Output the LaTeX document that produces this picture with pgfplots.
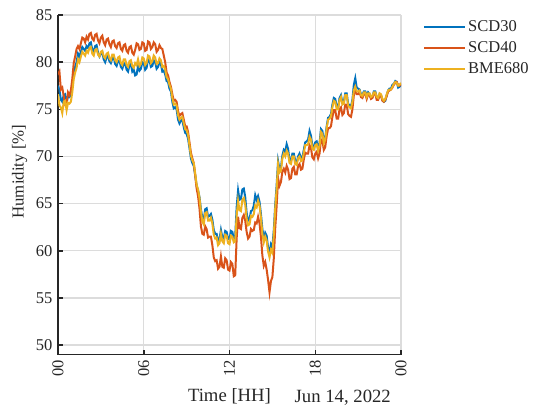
\documentclass[border=0pt]{standalone}
\usepackage{fontspec}
\setmainfont{Liberation Serif}
\usepackage{pgfplots}
\pgfplotsset{compat=1.18}
\usepackage{pgfplotstable}
\definecolor{mlblue}{RGB}{0,114,189}
\definecolor{mlred}{RGB}{217,83,25}
\definecolor{mlyellow}{RGB}{237,177,32}
\definecolor{gridc}{RGB}{220,220,220}
\definecolor{axc}{RGB}{38,38,38}

\pgfplotstableread{
t scd30 scd40 bme
0.0 77.5 78.7 76.6
0.1 77.1 79.0 75.4
0.2 76.0 77.1 75.2
0.3 75.8 77.3 74.6
0.4 76.5 76.4 75.8
0.5 76.6 75.5 75.9
0.6 75.7 75.6 74.9
0.7 76.4 76.8 75.7
0.8 76.3 76.5 75.6
0.9 76.5 77.0 75.8
1.0 77.5 78.2 76.8
1.1 78.8 79.9 78.2
1.2 79.5 80.6 78.9
1.3 80.0 81.4 79.4
1.4 80.9 81.7 80.3
1.5 80.6 81.4 80.0
1.6 81.1 82.0 80.6
1.7 81.6 82.6 81.1
1.8 81.4 82.5 80.9
1.9 81.2 82.1 80.7
2.0 81.7 82.7 81.2
2.1 81.5 82.4 81.0
2.2 82.0 83.0 81.5
2.3 82.1 83.1 81.6
2.4 81.3 82.5 80.9
2.5 81.1 82.3 80.7
2.6 81.7 82.9 81.3
2.7 81.8 83.0 81.4
2.8 81.0 82.3 80.8
2.9 80.6 82.0 80.6
3.0 80.9 82.6 81.1
3.1 81.0 82.8 81.2
3.2 80.3 82.1 80.6
3.3 80.0 81.8 80.4
3.4 80.5 82.4 80.9
3.5 80.7 82.5 81.0
3.6 80.1 81.9 80.4
3.7 79.9 81.6 80.2
3.8 80.4 82.2 80.8
3.9 80.5 82.3 80.8
4.0 79.8 81.7 80.2
4.1 79.6 81.5 80.0
4.2 80.1 82.0 80.5
4.3 80.2 82.1 80.6
4.4 79.5 81.4 79.9
4.5 79.3 81.2 79.7
4.6 79.8 81.8 80.3
4.7 79.9 81.9 80.3
4.8 79.2 81.2 79.7
4.9 79.0 81.0 79.5
5.0 79.7 81.6 80.1
5.1 79.8 81.7 80.2
5.2 79.0 81.0 79.6
5.3 79.2 80.8 79.4
5.4 78.6 81.3 79.9
5.5 78.7 82.0 79.7
5.6 79.6 81.9 80.3
5.7 79.1 81.3 79.6
5.8 79.3 81.4 79.8
5.9 80.0 82.1 80.5
6.0 79.9 82.0 80.4
6.1 79.2 81.2 79.7
6.2 79.4 81.3 79.9
6.3 80.3 82.2 80.7
6.4 80.2 82.1 80.6
6.5 79.5 81.4 79.9
6.6 79.6 81.6 80.1
6.7 80.2 82.1 80.7
6.8 80.0 81.9 80.5
6.9 79.3 81.1 79.8
7.0 79.5 81.3 79.9
7.1 80.0 81.8 80.4
7.2 79.8 81.5 80.2
7.3 79.0 81.4 79.5
7.4 79.1 80.7 79.6
7.5 78.7 80.0 79.2
7.6 78.0 78.9 78.4
7.7 77.9 78.6 78.2
7.8 77.2 77.9 77.6
7.9 76.9 77.4 77.2
8.0 75.8 76.6 76.2
8.1 75.1 75.9 75.5
8.2 75.2 76.0 75.6
8.3 75.0 75.8 75.4
8.4 73.9 74.8 74.4
8.5 73.5 74.3 73.9
8.6 73.8 74.5 74.1
8.7 73.9 74.6 74.2
8.8 73.1 73.9 73.5
8.9 72.5 73.2 72.9
9.0 72.4 73.2 72.8
9.1 71.9 72.6 72.3
9.2 70.9 71.5 71.2
9.3 69.8 70.4 70.1
9.4 69.3 69.8 69.6
9.5 69.0 69.3 69.3
9.6 68.0 68.0 68.2
9.7 66.9 66.6 67.0
9.8 66.4 65.8 66.5
9.9 65.7 64.5 65.6
10.0 64.4 62.6 64.2
10.1 63.5 61.8 63.1
10.2 63.3 61.7 62.8
10.3 64.4 62.6 64.0
10.4 64.5 62.3 64.1
10.5 63.6 61.4 63.2
10.6 63.7 61.5 63.2
10.7 63.9 61.5 63.5
10.8 63.3 60.6 62.9
10.9 62.2 59.3 61.7
11.0 61.8 58.9 61.3
11.1 61.8 59.0 61.4
11.2 61.0 58.1 60.6
11.3 61.2 58.3 60.8
11.4 62.2 59.4 61.8
11.5 61.4 58.3 61.0
11.6 61.3 58.2 60.8
11.7 62.1 59.2 61.7
11.8 62.0 59.0 61.6
11.9 61.3 58.0 60.8
12.0 61.2 57.9 60.7
12.1 62.1 58.8 61.6
12.2 62.0 58.6 61.5
12.3 61.3 57.3 60.9
12.4 61.5 57.4 61.0
12.5 64.6 61.3 63.7
12.6 66.4 63.6 65.3
12.7 65.4 62.4 64.3
12.8 65.5 62.3 64.2
12.9 66.5 63.5 65.4
13.0 66.6 63.8 65.6
13.1 65.7 63.2 64.9
13.2 64.0 62.0 63.4
13.3 63.2 61.3 62.7
13.4 63.3 61.5 62.8
13.5 64.2 62.3 63.7
13.6 64.3 62.1 63.6
13.7 64.8 62.2 63.9
13.8 65.9 63.0 64.8
13.9 65.4 62.9 64.6
14.0 65.8 63.6 65.3
14.1 65.2 62.9 64.8
14.2 63.9 61.5 63.5
14.3 62.3 59.5 61.8
14.4 61.3 58.4 60.9
14.5 61.9 58.8 61.5
14.6 61.6 58.0 61.1
14.7 60.3 56.9 59.9
14.8 59.8 55.6 59.3
14.9 60.7 56.8 60.1
15.0 60.4 57.2 59.8
15.1 62.2 59.2 61.7
15.2 64.9 62.4 64.5
15.3 67.0 64.8 66.6
15.4 69.5 67.7 69.2
15.5 68.6 66.9 68.3
15.6 68.8 67.3 68.5
15.7 70.1 68.4 69.8
15.8 70.7 68.7 70.3
15.9 70.5 68.3 70.0
16.0 71.3 69.0 70.6
16.1 70.8 68.6 70.3
16.2 69.6 67.6 69.3
16.3 69.5 67.7 69.2
16.4 70.3 68.7 70.0
16.5 70.3 68.9 70.0
16.6 69.5 68.1 69.2
16.7 69.3 68.1 69.1
16.8 70.0 69.0 69.8
16.9 70.3 69.2 70.0
17.0 69.8 68.6 69.5
17.1 69.9 68.7 69.6
17.2 70.7 69.7 70.4
17.3 71.5 70.4 71.2
17.4 71.6 70.3 71.2
17.5 71.8 70.3 71.3
17.6 72.7 71.2 72.1
17.7 72.2 70.9 71.8
17.8 71.1 69.9 70.8
17.9 70.9 69.7 70.7
18.0 71.5 70.3 71.2
18.1 71.6 70.5 71.3
18.2 70.8 69.8 70.6
18.3 71.4 70.3 71.1
18.4 72.9 71.8 72.6
18.5 72.7 71.7 72.4
18.6 71.6 70.7 71.4
18.7 72.0 71.0 71.8
18.8 73.2 72.2 73.0
18.9 74.1 73.0 73.9
19.0 74.2 73.0 74.0
19.1 74.5 73.2 74.3
19.2 75.5 74.2 75.2
19.3 76.2 74.9 75.9
19.4 76.1 74.9 75.8
19.5 75.3 74.0 75.0
19.6 75.2 74.0 75.0
19.7 76.2 75.0 76.0
19.8 76.5 75.2 76.3
19.9 75.7 74.4 75.5
20.0 75.8 74.6 75.6
20.1 76.7 75.5 76.5
20.2 76.7 75.5 76.5
20.3 75.6 74.5 75.4
20.4 75.4 74.3 75.2
20.5 75.3 74.2 75.1
20.6 76.0 75.0 75.8
20.7 77.6 76.5 77.0
20.8 78.3 77.2 77.4
20.9 77.3 76.6 76.9
21.0 77.2 76.6 76.9
21.1 77.1 76.8 77.0
21.2 76.6 76.3 76.5
21.3 76.5 76.2 76.4
21.4 76.9 76.6 76.8
21.5 76.9 76.7 76.8
21.6 76.4 76.1 76.3
21.7 76.8 76.6 76.7
21.8 76.6 76.5 76.7
21.9 76.2 76.1 76.3
22.0 76.3 76.2 76.4
22.1 76.9 76.7 76.8
22.2 76.9 76.6 76.8
22.3 76.3 76.0 76.3
22.4 76.1 76.0 76.2
22.5 76.6 76.5 76.7
22.6 76.5 76.4 76.6
22.7 76.0 75.9 76.1
22.8 75.8 75.8 75.9
22.9 75.9 76.0 76.1
23.0 76.5 76.4 76.6
23.1 77.0 76.9 77.0
23.2 77.2 77.0 77.1
23.3 77.2 77.1 77.1
23.4 77.6 77.3 77.4
23.5 77.7 77.6 77.7
23.6 78.0 77.8 77.9
23.7 77.9 77.9 77.8
23.8 77.3 77.6 77.5
23.9 77.4 77.5 77.6
24.0 77.6 77.7 77.8
}\data

\begin{document}
\fontsize{16.5bp}{19bp}\selectfont
\begin{tikzpicture}
\path[use as bounding box] (-58bp,-52.5bp) rectangle (477bp,354.5bp);
\begin{axis}[
  at={(0,0)}, anchor=south west,
  scale only axis, width=343bp, height=339.5bp,
  xmin=0, xmax=24, ymin=49, ymax=85,
  xtick={0,6,12,18,24}, xticklabels={00,06,12,18,00},
  ytick={50,55,60,65,70,75,80,85},
  /pgf/number format/assume math mode=true,
  axis x line*=bottom, axis y line*=left,
  tick align=inside, major tick length=5bp,
  grid=major, grid style={gridc, line width=1.3bp},
  axis line style={axc, line width=1.5bp},
  every tick/.style={axc, line width=1.5bp},
  tick label style={font=\fontsize{16.5bp}{19bp}\selectfont, text=axc},
  x tick label style={rotate=90, anchor=east},
  xlabel={Time [HH]},
  xlabel style={at={(axis description cs:0.5,-0.1399)}, anchor=base, font=\fontsize{18.7bp}{21bp}\selectfont, text=axc},
  ylabel={Humidity [\%]},
  ylabel style={at={(axis description cs:-0.1117,0.5385)}, anchor=center, rotate=0, font=\fontsize{16.8bp}{19bp}\selectfont, text=axc},
  legend cell align=left,
  legend image code/.code={\draw[#1] (0bp,0bp) -- (41bp,0bp);},
  legend style={draw=none, fill=none, at={(1,1)}, anchor=north west, xshift=22bp, yshift=-1.5bp,
    inner sep=0pt, row sep=0pt, column sep=0pt,
    nodes={inner xsep=2bp, inner ysep=2.8bp, text height=11.5bp, text depth=4bp, font=\fontsize{16.5bp}{19bp}\selectfont, text=axc}},
]
\addplot[color=mlblue, line width=2bp] table[x=t, y=scd30] {\data};
\addlegendentry{SCD30}
\addplot[color=mlred, line width=2bp] table[x=t, y=scd40] {\data};
\addlegendentry{SCD40}
\addplot[color=mlyellow, line width=2bp] table[x=t, y=bme] {\data};
\addlegendentry{BME680}
\end{axis}
\node[anchor=base west, font=\fontsize{18.7bp}{21bp}\selectfont, text=axc] at (231bp,-47.5bp) {Jun 14, 2022};
\end{tikzpicture}
\end{document}
